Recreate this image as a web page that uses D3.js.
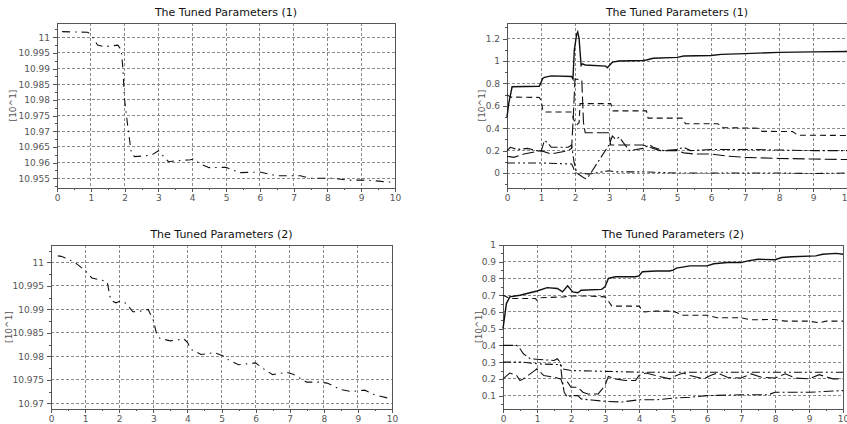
<!DOCTYPE html>
<html>
<head>
<meta charset="utf-8">
<script src="https://cdn.jsdelivr.net/npm/d3@7"></script>
<style>
  body { margin: 0; background: #fff; }
  svg { display: block; font-family: "DejaVu Sans", sans-serif; }
</style>
</head>
<body>
<div id="chart"></div>
<script>
const W = 847, H = 424;

// ---- data ----
const xTicks = [0, 1, 2, 3, 4, 5, 6, 7, 8, 9, 10];

// top left: one parameter, (1)
const tl_t = [0.15,0.9,1.0,1.2,1.4,1.8,1.9,1.95,2.0,2.1,2.2,2.3,2.8,3.0,3.3,3.5,3.95,4.05,4.2,4.5,5.0,5.4,6.0,6.5,7.2,7.5,8.2,8.6,9.2,9.6,10];
const tl_v = [11.0018,11.0016,11.001,10.99755,10.997,10.9975,10.996,10.99,10.98,10.971,10.963,10.9619,10.9624,10.9638,10.9603,10.9606,10.9609,10.9612,10.9598,10.9584,10.9585,10.9568,10.957,10.9558,10.9558,10.955,10.955,10.9544,10.9544,10.954,10.9537];
const tlTicks = [10.955, 10.96, 10.965, 10.97, 10.975, 10.98, 10.985, 10.99, 10.995, 11];

// bottom left: one parameter, (2)
const bl_t = [0.2,0.3,0.5,0.7,1.0,1.2,1.5,1.65,1.75,1.9,2.05,2.2,2.4,2.6,2.85,3.0,3.1,3.2,3.5,3.9,4.0,4.1,4.4,4.8,5.05,5.2,5.5,6.0,6.2,6.5,6.9,7.1,7.5,7.9,8.1,8.5,8.8,9.2,9.5,10];
const bl_v = [11.0014,11.0013,11.0007,11.0,10.9983,10.9967,10.9962,10.9958,10.992,10.9914,10.9918,10.9913,10.9895,10.9896,10.99,10.9877,10.9847,10.9838,10.9833,10.9837,10.983,10.9815,10.9804,10.9808,10.9801,10.9793,10.9782,10.9786,10.9775,10.9761,10.9766,10.9762,10.9745,10.9745,10.9743,10.9729,10.9725,10.9728,10.9718,10.9709];
const blTicks = [10.97, 10.975, 10.98, 10.985, 10.99, 10.995, 11];

// top right: five parameters, (1)
const tr1_t = [0,0.05,0.15,0.95,1.05,1.1,1.3,1.9,1.94,1.98,2.05,2.08,2.12,2.18,2.22,2.3,2.9,2.95,3.1,3.3,4.0,4.1,4.3,5.0,5.2,6.0,6.3,7.0,8.0,9.0,10];
const tr1_v = [0.5,0.62,0.77,0.775,0.845,0.855,0.868,0.862,0.84,1.1,1.24,1.26,1.2,0.96,0.975,0.965,0.955,0.94,0.99,1.0,1.005,1.01,1.025,1.033,1.045,1.05,1.06,1.066,1.078,1.082,1.085];
const tr2_t = [0,0.1,0.95,1.0,1.05,1.1,1.9,1.97,2.05,2.12,2.15,3.05,3.12,4.1,4.15,5.15,5.25,6.2,6.35,7.4,7.5,8.4,8.55,10];
const tr2_v = [0.7,0.678,0.675,0.65,0.566,0.545,0.545,0.47,0.43,0.45,0.62,0.62,0.555,0.555,0.49,0.49,0.44,0.44,0.405,0.4,0.372,0.37,0.338,0.335];
const tr3_t = [0,0.2,0.5,1.0,1.3,1.8,1.9,1.95,2.0,2.2,2.25,2.3,3.0,3.05,4.0,4.5,5.0,5.2,5.5,6.0,6.5,7.0,8.0,9.0,10];
const tr3_v = [0.15,0.14,0.17,0.2,0.17,0.2,0.22,0.5,0.84,0.83,0.45,0.36,0.36,0.25,0.25,0.2,0.2,0.18,0.17,0.17,0.15,0.14,0.13,0.125,0.12];
const tr4_t = [0,0.1,0.3,0.6,1.0,1.1,1.2,1.3,1.8,1.9,1.97,2.05,2.3,2.4,3.0,3.1,3.2,3.3,3.6,4.0,4.2,4.3,4.6,5.0,5.2,5.4,6.0,7.0,8.0,9.0,10];
const tr4_v = [0.2,0.23,0.21,0.22,0.19,0.29,0.27,0.23,0.23,0.25,0.1,0.0,-0.05,-0.03,0.25,0.33,0.3,0.32,0.2,0.22,0.25,0.23,0.2,0.21,0.23,0.2,0.21,0.21,0.205,0.2,0.2];
const tr5_t = [0,1.0,1.9,1.95,2.0,2.2,2.4,3.0,3.2,4.0,5.0,6.0,7.0,8.0,9.0,10];
const tr5_v = [0.09,0.09,0.08,0.05,0.0,0.0,-0.01,0.02,0.01,0.01,0.0,0.0,0.0,0.0,-0.005,0.0];
const trTicks = [0, 0.2, 0.4, 0.6, 0.8, 1, 1.2];

// bottom right: five parameters, (2)
const br1_t = [0,0.1,0.2,0.5,1.0,1.3,1.6,1.75,1.9,2.05,2.2,2.3,2.9,3.0,3.1,3.3,3.9,4.0,4.1,4.5,4.9,5.0,5.1,5.5,6.0,6.2,6.6,7.0,7.2,7.5,8.0,8.2,8.5,9.2,9.4,9.8,10];
const br1_v = [0.5,0.65,0.69,0.7,0.725,0.745,0.74,0.72,0.756,0.72,0.715,0.73,0.735,0.75,0.8,0.81,0.81,0.815,0.84,0.845,0.845,0.85,0.862,0.875,0.875,0.888,0.895,0.895,0.905,0.915,0.912,0.925,0.93,0.935,0.945,0.95,0.945];
const br2_t = [0,0.2,0.95,1.0,1.1,1.8,2.0,2.5,3.0,3.1,3.2,4.0,4.15,4.5,5.0,5.3,6.0,6.3,7.0,7.3,8.0,8.3,9.0,9.3,9.5,10];
const br2_v = [0.7,0.68,0.68,0.67,0.685,0.69,0.695,0.695,0.69,0.665,0.635,0.635,0.6,0.605,0.605,0.58,0.58,0.565,0.565,0.553,0.555,0.545,0.545,0.535,0.545,0.545];
const br3_t = [0,0.4,0.5,0.6,0.8,1.5,1.6,1.68,1.75,1.8,1.9,2.0,2.2,2.3,2.6,3.0,3.5,4.0,4.5,5.0,5.5,6.0,7.0,7.8,8.0,9.0,10];
const br3_v = [0.4,0.4,0.38,0.35,0.32,0.31,0.32,0.3,0.18,0.12,0.09,0.1,0.1,0.08,0.074,0.066,0.062,0.075,0.075,0.085,0.09,0.1,0.105,0.105,0.12,0.12,0.13];
const br4_t = [0,0.6,1.0,1.7,1.75,2.0,3.0,4.0,5.0,6.0,7.0,8.0,9.0,10];
const br4_v = [0.3,0.3,0.29,0.285,0.26,0.25,0.245,0.24,0.24,0.24,0.24,0.24,0.24,0.24];
const br5_t = [0,0.2,0.4,0.5,0.6,0.9,1.0,1.2,1.5,1.7,1.75,1.9,2.0,2.2,2.35,2.5,2.8,3.0,3.1,3.3,3.6,3.9,4.0,4.2,4.5,4.9,5.1,5.3,5.5,5.9,6.1,6.3,6.6,7.0,7.3,7.6,8.0,8.3,8.6,9.0,9.3,9.7,10];
const br5_v = [0.2,0.235,0.22,0.19,0.2,0.245,0.26,0.22,0.21,0.2,0.17,0.18,0.15,0.15,0.12,0.11,0.11,0.16,0.215,0.2,0.19,0.19,0.22,0.235,0.22,0.2,0.22,0.235,0.22,0.2,0.22,0.235,0.21,0.205,0.23,0.21,0.205,0.23,0.205,0.2,0.225,0.2,0.2];
const brTicks = [0.1, 0.2, 0.3, 0.4, 0.5, 0.6, 0.7, 0.8, 0.9, 1];

const titles = ["The Tuned Parameters (1)", "The Tuned Parameters (2)"];
const yLabel = "[10^1]";

// line styles (scilab-ish)
const DASH = {
  solid: null,
  dash: "6,4",
  longdash: "12,4",
  dashdot: "10,3,2,3",
  dashdotdot: "8,3,2,3,2,3",
  sparse: "8,5,1.5,5"
};

const svg = d3.select("#chart").append("svg")
  .attr("width", W)
  .attr("height", H);

const fmt = v => String(+v.toFixed(4));

function panel(o) {
  const x = d3.scaleLinear().domain([0, 10]).range([o.left, o.right]);
  const y = d3.scaleLinear().domain(o.yDomain).range([o.bottom, o.top]);
  const g = svg.append("g");

  // grid
  g.selectAll(".gx").data(xTicks).enter().append("line")
    .attr("x1", d => x(d)).attr("x2", d => x(d))
    .attr("y1", o.top).attr("y2", o.bottom)
    .attr("stroke", "#8a8a8a").attr("stroke-width", 1)
    .attr("stroke-dasharray", "3,2")
    .attr("shape-rendering", "crispEdges");
  g.selectAll(".gy").data(o.yTicks).enter().append("line")
    .attr("x1", o.left).attr("x2", o.right)
    .attr("y1", d => y(d)).attr("y2", d => y(d))
    .attr("stroke", "#8a8a8a").attr("stroke-width", 1)
    .attr("stroke-dasharray", "3,2")
    .attr("shape-rendering", "crispEdges");

  // axes (outward ticks, one minor between majors)
  const xAxis = d3.axisBottom(x).tickValues(xTicks).tickFormat(d3.format("d"))
    .tickSize(4).tickPadding(3);
  const xMinor = d3.axisBottom(x).tickValues(xTicks.slice(1).map(d => d - 0.5))
    .tickSize(2).tickFormat("");
  const step = o.yTicks[1] - o.yTicks[0];
  const yMinorVals = o.yTicks.map(d => d - step / 2).concat([o.yTicks[o.yTicks.length - 1] + step / 2])
    .filter(d => d >= o.yDomain[0] && d <= o.yDomain[1]);
  const yAxis = d3.axisLeft(y).tickValues(o.yTicks).tickFormat(fmt)
    .tickSize(4).tickPadding(3);
  const yMinor = d3.axisLeft(y).tickValues(yMinorVals).tickSize(2).tickFormat("");

  [xAxis, xMinor].forEach(a => {
    g.append("g").attr("transform", `translate(0,${o.bottom})`).call(a);
  });
  [yAxis, yMinor].forEach(a => {
    g.append("g").attr("transform", `translate(${o.left},0)`).call(a);
  });
  g.selectAll(".domain").remove();
  g.selectAll(".tick line").attr("stroke", "#555").attr("shape-rendering", "crispEdges");
  g.selectAll(".tick text").attr("fill", "#555")
    .style("font-family", "DejaVu Sans").style("font-size", "9px");

  // frame
  g.append("rect")
    .attr("x", o.left).attr("y", o.top)
    .attr("width", o.right - o.left).attr("height", o.bottom - o.top)
    .attr("fill", "none").attr("stroke", "#555")
    .attr("shape-rendering", "crispEdges");

  // series
  const line = d3.line().x(d => x(d[0])).y(d => y(d[1]));
  o.series.forEach(s => {
    g.append("path")
      .datum(d3.zip(s.t, s.v))
      .attr("d", line)
      .attr("fill", "none")
      .attr("stroke", "#111")
      .attr("stroke-width", s.w || 1.1)
      .attr("stroke-dasharray", DASH[s.style]);
  });

  // title and y label
  g.append("text")
    .attr("x", (o.left + o.right) / 2).attr("y", o.top - 7)
    .attr("text-anchor", "middle")
    .style("font-size", "11px").attr("fill", "#111")
    .text(o.title);
  g.append("text")
    .attr("transform", `translate(${o.labelX},${(o.top + o.bottom) / 2}) rotate(-90)`)
    .attr("text-anchor", "middle")
    .style("font-size", "9px").attr("fill", "#555")
    .text(yLabel);
}

panel({
  left: 57, right: 395, top: 23, bottom: 188,
  yDomain: [10.9519, 11.00456], yTicks: tlTicks,
  title: titles[0], labelX: 16,
  series: [{ t: tl_t, v: tl_v, style: "sparse" }]
});

panel({
  left: 507, right: 847, top: 23, bottom: 188,
  yDomain: [-0.134, 1.34], yTicks: trTicks,
  title: titles[0], labelX: 485,
  series: [
    { t: tr1_t, v: tr1_v, style: "solid", w: 1.4 },
    { t: tr2_t, v: tr2_v, style: "dash" },
    { t: tr3_t, v: tr3_v, style: "longdash" },
    { t: tr4_t, v: tr4_v, style: "dashdot" },
    { t: tr5_t, v: tr5_v, style: "dashdotdot" }
  ]
});

panel({
  left: 51, right: 392, top: 245, bottom: 409,
  yDomain: [10.96878, 11.00372], yTicks: blTicks,
  title: titles[1], labelX: 12,
  series: [{ t: bl_t, v: bl_v, style: "sparse" }]
});

panel({
  left: 503, right: 843, top: 245, bottom: 409,
  yDomain: [0.02, 1], yTicks: brTicks,
  title: titles[1], labelX: 482,
  series: [
    { t: br1_t, v: br1_v, style: "solid", w: 1.4 },
    { t: br2_t, v: br2_v, style: "dash" },
    { t: br3_t, v: br3_v, style: "dashdot" },
    { t: br4_t, v: br4_v, style: "dashdotdot" },
    { t: br5_t, v: br5_v, style: "longdash" }
  ]
});
</script>
</body>
</html>
